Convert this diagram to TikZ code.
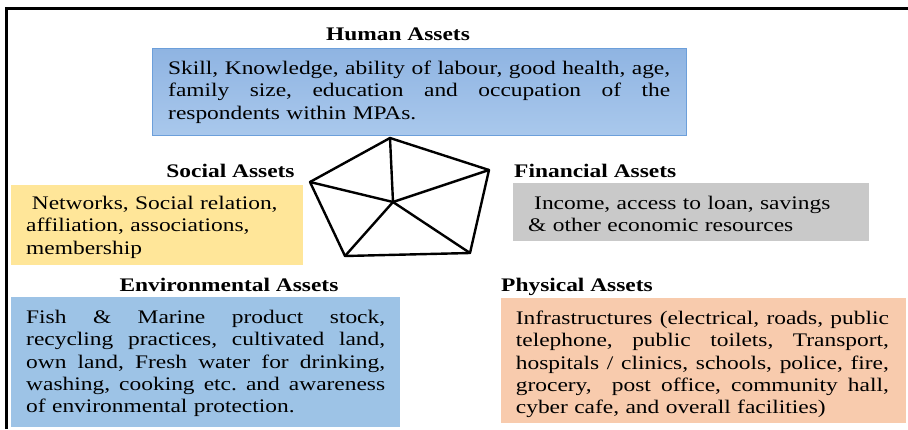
\documentclass[tikz,border=0pt]{standalone}
\usepackage{fontspec}
\setmainfont{Liberation Serif}[FakeStretch=1.22]
\begin{document}
\frenchspacing
\begin{tikzpicture}[x=1pt,y=-1pt,
  bodytext/.style={font=\fontsize{19.2}{22.4}\selectfont, inner sep=0pt, align=left, anchor=base west},
  heading/.style={font=\fontsize{19.2}{22.4}\selectfont\bfseries, inner sep=0pt},
  panel/.style={rectangle, inner sep=0pt, anchor=north west},
  edge/.style={line width=2.4pt, line join=round, line cap=round}]
% one justified line: stretchable/shrinkable interword glue, spread to full width
\newcommand{\jl}[1]{\makebox[\linewidth][s]{\spaceskip=.25em plus .8em minus .1em\relax\xspaceskip=\spaceskip #1}}
\definecolor{humantop}{HTML}{8FB4E2}
\definecolor{humanbot}{HTML}{A9C8EC}
\definecolor{humanline}{HTML}{6C9FDA}
\definecolor{socialfill}{HTML}{FFE699}
\definecolor{finfill}{HTML}{C9C9C9}
\definecolor{envfill}{HTML}{9DC3E6}
\definecolor{physfill}{HTML}{F8CBAD}
\useasboundingbox (0,0) rectangle (908,429);
\fill[white] (0,0) rectangle (908,429);

% frame (top and left sides)
\draw[line width=3pt] (6.5,429) -- (6.5,8.5) -- (908,8.5);

% coloured panels
\node[panel, top color=humantop, bottom color=humanbot, draw=humanline, line width=0.8pt,
  minimum width=534pt, minimum height=87pt] (human) at (152,48) {};
\node[panel, fill=socialfill, minimum width=292pt, minimum height=80pt] (social) at (11,185) {};
\node[panel, fill=finfill, minimum width=356pt, minimum height=58pt] (fin) at (513,183) {};
\node[panel, fill=envfill, minimum width=389pt, minimum height=130pt] (env) at (11,297) {};
\node[panel, fill=physfill, minimum width=405pt, minimum height=125pt] (phys) at (501,298) {};

% headings
\node[heading, anchor=base] (humanT) at (398,40) {Human Assets};
\node[heading, anchor=base] (socialT) at (230.5,177) {Social Assets};
\node[heading, anchor=base west] (finT) at (514,177) {Financial Assets};
\node[heading, anchor=base] (envT) at (229,291) {Environmental Assets};
\node[heading, anchor=base west] (physT) at (501,291.5) {Physical Assets};

% panel texts
\node[bodytext, text width=502pt] (humanX) at (168,74.3) {%
  \jl{Skill, Knowledge, ability of labour, good health, age,}\\
  \jl{family size, education and occupation of the}\\
  respondents within MPAs.};
\node[bodytext, text width=270pt] (socialX) at (26,209.3) {%
  \hspace*{5.7pt}Networks, Social relation,\\
  affiliation, associations,\\
  membership};
\node[bodytext, text width=330pt] (finX) at (528,209) {%
  \hspace*{6pt}Income, access to loan, savings\\
  \& other economic resources};
\node[bodytext, text width=359pt] (envX) at (26,323.3) {%
  \jl{Fish \& Marine product stock,}\\
  \jl{recycling practices, cultivated land,}\\
  \jl{own land, Fresh water for drinking,}\\
  \jl{washing, cooking etc. and awareness}\\
  of environmental protection.};
\node[bodytext, text width=373pt] (physX) at (515.7,324.3) {%
  \jl{Infrastructures (electrical, roads, public}\\
  \jl{telephone, public toilets, Transport,}\\
  \jl{hospitals / clinics, schools, police, fire,}\\
  \jl{grocery,\ \ post office, community hall,}\\
  cyber cafe, and overall facilities)};

% pentagon linking the five assets
\coordinate (pT) at (390,138);
\coordinate (pR) at (489,170);
\coordinate (pBR) at (470,253);
\coordinate (pBL) at (345,256);
\coordinate (pL) at (310,182);
\coordinate (pC) at (393,202);
\draw[edge] (pT) -- (pR) -- (pBR) -- (pBL) -- (pL) -- cycle;
\draw[edge] (pC) -- (pT);
\draw[edge] (pC) -- (pR);
\draw[edge] (pC) -- (pBR);
\draw[edge] (pC) -- (pBL);
\draw[edge] (pC) -- (pL);
\end{tikzpicture}
\end{document}
